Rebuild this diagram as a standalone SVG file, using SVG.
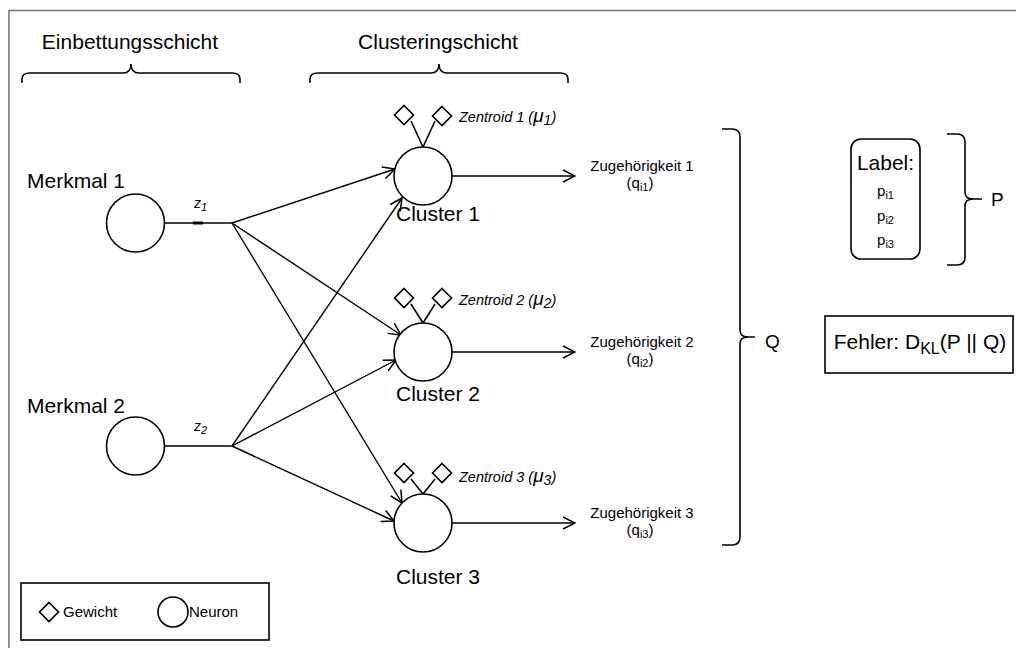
<svg xmlns="http://www.w3.org/2000/svg" width="1016" height="648" viewBox="0 0 1016 648">
  <defs>
    <style>
      .t { font-family: "Liberation Sans", Arial, sans-serif; fill: #000; }
      .big { font-size: 21px; }
      .sm { font-size: 15px; }
      .zt { font-size: 14.5px; font-style: italic; }
      .it { font-style: italic; }
      .ln { fill: none; stroke: #000; stroke-width: 1.6; }
      .node { fill: #fff; stroke: #000; stroke-width: 1.6; }
      .arr { fill: none; stroke: #000; stroke-width: 1.4; marker-end: url(#open); }
    </style>
    <marker id="open" viewBox="0 0 14 14" refX="13" refY="7" markerWidth="14" markerHeight="14" markerUnits="userSpaceOnUse" orient="auto">
      <path d="M1,1 L13,7 L1,13" fill="none" stroke="#000" stroke-width="1.5"/>
    </marker>
    <path id="dia" d="M0,-9.5 L9.5,0 L0,9.5 L-9.5,0 Z" fill="#fff" stroke="#000" stroke-width="1.6"/>
  </defs>

  <rect width="1016" height="648" fill="#fff"/>
  <!-- frame -->
  <path d="M9,648 L9,10.5 L1016,10.5" fill="none" stroke="#777" stroke-width="1.6"/>

  <!-- layer headings -->
  <g id="heading-embedding">
    <text class="t big" x="130" y="49" text-anchor="middle">Einbettungsschicht</text>
    <path class="ln" d="M22,83 L22,79 Q22,73 30,73 L123,73 Q131,73 131,64 Q131,73 139,73 L232,73 Q240,73 240,79 L240,83"/>
  </g>
  <g id="heading-clustering">
    <text class="t big" x="438" y="49" text-anchor="middle">Clusteringschicht</text>
    <path class="ln" d="M310,83 L310,79 Q310,73 318,73 L431,73 Q439,73 439,64 Q439,73 447,73 L560,73 Q568,73 568,79 L568,83"/>
  </g>

  <!-- connectors -->
  <g id="connectors">
    <path class="ln" d="M165,223 L232,223"/>
    <path d="M193,223 L203,223" stroke="#000" stroke-width="3"/>
    <path class="ln" d="M165,446 L232,446"/>
    <path class="arr" d="M232,223 L395,169"/>
    <path class="arr" d="M232,223 L401,335"/>
    <path class="arr" d="M232,223 L402,503"/>
    <path class="arr" d="M232,446 L402,198"/>
    <path class="arr" d="M232,446 L396,360"/>
    <path class="arr" d="M232,446 L394,521"/>
    <path class="arr" d="M452,176 L575,176"/>
    <path class="arr" d="M452,352 L575,352"/>
    <path class="arr" d="M452,523 L575,523"/>
    <text class="t it" font-size="14" x="194" y="208">z<tspan font-size="11" dy="3">1</tspan></text>
    <text class="t it" font-size="14" x="194" y="431">z<tspan font-size="11" dy="3">2</tspan></text>
  </g>

  <!-- input features -->
  <g id="feature-1">
    <text class="t big" x="27" y="188">Merkmal 1</text>
    <circle class="node" cx="135.5" cy="223" r="29"/>
  </g>
  <g id="feature-2">
    <text class="t big" x="27" y="413">Merkmal 2</text>
    <circle class="node" cx="135.5" cy="446" r="29"/>
  </g>

  <!-- cluster neurons with centroid weights -->
  <g id="cluster-1">
    <path class="ln" d="M423,147 L411,121 M423,147 L435,121"/>
    <use href="#dia" x="404" y="115"/>
    <use href="#dia" x="442" y="116"/>
    <text class="t zt" x="459" y="122">Zentroid 1 (<tspan font-size="19">μ</tspan><tspan font-size="14" dy="3">1</tspan><tspan dy="-3">)</tspan></text>
    <circle class="node" cx="423" cy="176" r="29"/>
    <text class="t big" x="396" y="221">Cluster 1</text>
  </g>
  <g id="cluster-2">
    <path class="ln" d="M423,323 L411,304 M423,323 L435,304"/>
    <use href="#dia" x="404" y="298"/>
    <use href="#dia" x="442" y="298"/>
    <text class="t zt" x="459" y="305">Zentroid 2 (<tspan font-size="19">μ</tspan><tspan font-size="14" dy="3">2</tspan><tspan dy="-3">)</tspan></text>
    <circle class="node" cx="423" cy="352" r="29"/>
    <text class="t big" x="396" y="401">Cluster 2</text>
  </g>
  <g id="cluster-3">
    <path class="ln" d="M423,494 L411,479 M423,494 L435,479"/>
    <use href="#dia" x="404" y="473"/>
    <use href="#dia" x="442" y="473"/>
    <text class="t zt" x="459" y="482">Zentroid 3 (<tspan font-size="19">μ</tspan><tspan font-size="14" dy="3">3</tspan><tspan dy="-3">)</tspan></text>
    <circle class="node" cx="423" cy="523" r="29"/>
    <text class="t big" x="396" y="584">Cluster 3</text>
  </g>

  <!-- soft assignments -->
  <g id="membership-1">
    <text class="t sm" x="642" y="171" text-anchor="middle">Zugehörigkeit 1</text>
    <text class="t sm" x="640" y="188" text-anchor="middle">(q<tspan font-size="11" dy="3">i1</tspan><tspan dy="-3">)</tspan></text>
  </g>
  <g id="membership-2">
    <text class="t sm" x="642" y="347" text-anchor="middle">Zugehörigkeit 2</text>
    <text class="t sm" x="640" y="364" text-anchor="middle">(q<tspan font-size="11" dy="3">i2</tspan><tspan dy="-3">)</tspan></text>
  </g>
  <g id="membership-3">
    <text class="t sm" x="642" y="518" text-anchor="middle">Zugehörigkeit 3</text>
    <text class="t sm" x="640" y="535" text-anchor="middle">(q<tspan font-size="11" dy="3">i3</tspan><tspan dy="-3">)</tspan></text>
  </g>

  <!-- Q grouping -->
  <g id="q-brace">
    <path class="ln" d="M722,129 L732,129 Q740,129 740,137 L740,330 Q740,337 748,337 L755,337 M748,337 Q740,337 740,344 L740,537 Q740,545 732,545 L722,545"/>
    <text class="t" font-size="19" x="765" y="348">Q</text>
  </g>

  <!-- target labels -->
  <g id="labels">
    <rect class="node" x="851" y="139" width="69" height="120" rx="10"/>
    <text class="t big" x="885.5" y="170" text-anchor="middle">Label:</text>
    <text class="t sm" x="885.5" y="196" text-anchor="middle">p<tspan font-size="11" dy="3">i1</tspan></text>
    <text class="t sm" x="885.5" y="221" text-anchor="middle">p<tspan font-size="11" dy="3">i2</tspan></text>
    <text class="t sm" x="885.5" y="245" text-anchor="middle">p<tspan font-size="11" dy="3">i3</tspan></text>
  </g>
  <g id="p-brace">
    <path class="ln" d="M947,134 L957,134 Q965,134 965,142 L965,192 Q965,199 973,199 L982,199 M973,199 Q965,199 965,206 L965,257 Q965,265 957,265 L947,265"/>
    <text class="t" font-size="19" x="991" y="206">P</text>
  </g>

  <!-- loss -->
  <g id="loss">
    <rect class="node" x="825" y="316" width="188" height="57"/>
    <text class="t" font-size="21" x="920" y="349" text-anchor="middle">Fehler: D<tspan font-size="16" dy="5">KL</tspan><tspan dy="-5">(P || Q)</tspan></text>
  </g>

  <!-- legend -->
  <g id="legend">
    <rect class="node" x="21" y="583" width="248" height="57"/>
    <use href="#dia" x="49" y="612"/>
    <text class="t sm" x="63" y="617">Gewicht</text>
    <circle class="node" cx="173" cy="612" r="15"/>
    <text class="t sm" x="189" y="617">Neuron</text>
  </g>
</svg>
